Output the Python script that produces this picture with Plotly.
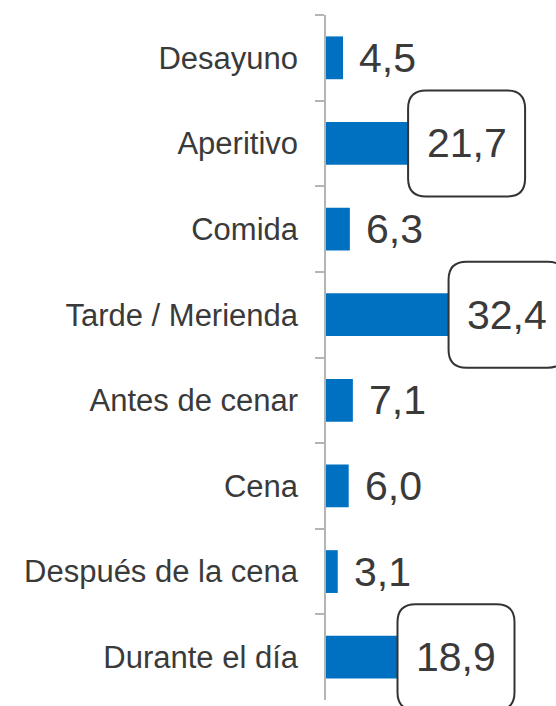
import plotly.graph_objects as go

# Momento de consumo (%)
categorias = ["Desayuno", "Aperitivo", "Comida", "Tarde / Merienda",
              "Antes de cenar", "Cena", "Después de la cena", "Durante el día"]
valores = [4.5, 21.7, 6.3, 32.4, 7.1, 6.0, 3.1, 18.9]
destacado = [False, True, False, True, False, False, False, True]

AZUL = "#0070C0"
TEXTO = "#3A3A3A"
GRIS = "#B4B4B4"
FUENTE = "Liberation Sans"
X_MAX = 60.8

def etiqueta(v):
    return f"{v:.1f}".replace(".", ",")

def caja_redondeada(w, h, r):
    # rounded rectangle path in pixels, origin at left-middle
    y0, y1 = -h / 2, h / 2
    return (f"M {r},{y0} L {w - r},{y0} Q {w},{y0} {w},{y0 + r} "
            f"L {w},{y1 - r} Q {w},{y1} {w - r},{y1} "
            f"L {r},{y1} Q 0,{y1} 0,{y1 - r} "
            f"L 0,{y0 + r} Q 0,{y0} {r},{y0} Z")

fig = go.Figure(go.Bar(
    x=valores, y=categorias, orientation="h",
    marker=dict(color=AZUL, line=dict(width=0)),
    width=0.5, hoverinfo="skip",
))

n = len(categorias)
anotaciones = []
formas = []
for i, (cat, v, d) in enumerate(zip(categorias, valores, destacado)):
    if d:
        ancho, alto = 117, 106
        formas.append(dict(
            type="path", xref="x", yref="paper",
            xsizemode="pixel", ysizemode="pixel",
            xanchor=v, yanchor=1 - (i + 0.5) / n,
            path=caja_redondeada(ancho, alto, 18),
            line=dict(color="#333333", width=2), fillcolor="white",
            layer="above",
        ))
        anotaciones.append(dict(
            x=v, y=cat, xref="x", yref="y", text=etiqueta(v),
            showarrow=False, xanchor="center", yanchor="middle",
            xshift=ancho / 2, font=dict(size=41, color=TEXTO, family=FUENTE),
        ))
    else:
        anotaciones.append(dict(
            x=v, y=cat, xref="x", yref="y", text=etiqueta(v),
            showarrow=False, xanchor="left", yanchor="middle",
            xshift=14, font=dict(size=41, color=TEXTO, family=FUENTE),
        ))

fig.update_layout(
    width=556, height=706,
    margin=dict(l=326, r=0, t=15, b=6),
    paper_bgcolor="white", plot_bgcolor="white",
    showlegend=False,
    font=dict(family=FUENTE),
    xaxis=dict(range=[0, X_MAX], visible=False, fixedrange=True),
    yaxis=dict(
        categoryorder="array", categoryarray=categorias,
        autorange="reversed",
        showline=True, linecolor=GRIS, linewidth=1.5,
        ticks="outside", tickson="boundaries", ticklen=9,
        tickcolor=GRIS, tickwidth=1.5,
        ticklabelstandoff=20,
        tickfont=dict(size=31, color=TEXTO, family=FUENTE),
        showgrid=False, zeroline=False,
    ),
    annotations=anotaciones,
    shapes=formas,
)

fig.write_html("out.html")
